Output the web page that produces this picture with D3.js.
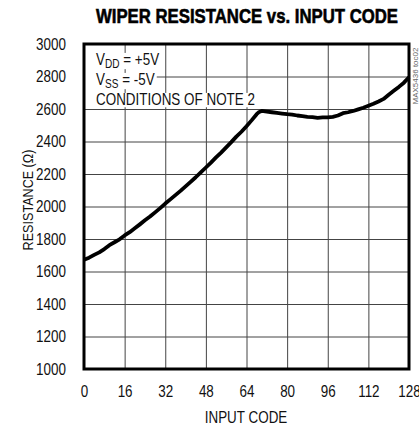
<!DOCTYPE html>
<html>
<head>
<meta charset="utf-8">
<script src="https://cdn.jsdelivr.net/npm/d3@7/dist/d3.min.js"></script>
<style>
  body { margin: 0; background: #fff; }
  text { font-family: 'Liberation Sans', Arial, sans-serif; }
</style>
</head>
<body>
<div id="chart"></div>
<script>
(function(d3) {
  'use strict';

  // input code vs wiper resistance (ohms)
  var codes = [0, 2, 4, 6, 8, 10, 12, 14, 16, 18, 20, 22, 24, 26, 28, 30, 32, 34, 36, 38, 40, 42, 44, 46, 48,
    50, 52, 54, 56, 58, 60, 62, 64, 66, 68, 69, 70, 72, 74, 76, 78, 80, 82, 84, 86, 88, 90, 92, 94, 96,
    98, 100, 102, 104, 106, 108, 110, 112, 114, 116, 118, 120, 122, 124, 126, 128];
  var resistance = [1672, 1685, 1702, 1718, 1738, 1762, 1780, 1798, 1822, 1842, 1866, 1890, 1915, 1938, 1964, 1990, 2018, 2044, 2070, 2096, 2124, 2152, 2180, 2210, 2240,
    2270, 2302, 2332, 2364, 2396, 2430, 2460, 2494, 2530, 2568, 2582, 2588, 2584, 2580, 2576, 2572, 2568, 2566, 2560, 2556, 2552, 2550, 2546, 2548, 2548,
    2552, 2560, 2574, 2580, 2588, 2598, 2608, 2620, 2632, 2646, 2662, 2688, 2712, 2736, 2762, 2795];

  var xTicks = [0, 16, 32, 48, 64, 80, 96, 112, 128];
  var yTicks = [1000, 1200, 1400, 1600, 1800, 2000, 2200, 2400, 2600, 2800, 3000];
  var notes = ['VDD = +5V', 'VSS = -5V', 'CONDITIONS OF NOTE 2'];

  var width = 419, height = 430;
  var left = 84, right = 409, top = 44, bottom = 369;
  var squeeze = 0.84; // no narrow font installed, squash horizontally

  var data = codes.map(function(c, i) { return { code: c, value: resistance[i] }; });

  var x = d3.scaleLinear().domain([0, 128]).range([left, right]);
  var y = d3.scaleLinear().domain([1000, 3000]).range([bottom, top]);

  var svg = d3.select('#chart').append('svg')
    .attr('width', width)
    .attr('height', height);

  svg.append('rect').attr('width', width).attr('height', height).attr('fill', '#fff');

  // grid
  svg.append('g')
    .attr('transform', 'translate(0,' + bottom + ')')
    .call(d3.axisBottom(x).tickValues(xTicks).tickSize(-(bottom - top)).tickFormat(''))
    .call(function(g) { g.select('.domain').remove(); })
    .selectAll('line').attr('stroke', '#444').attr('stroke-width', 1);

  svg.append('g')
    .attr('transform', 'translate(' + left + ',0)')
    .call(d3.axisLeft(y).tickValues(yTicks).tickSize(-(right - left)).tickFormat(''))
    .call(function(g) { g.select('.domain').remove(); })
    .selectAll('line').attr('stroke', '#444').attr('stroke-width', 1);

  // tick labels
  var xAxis = svg.append('g')
    .attr('transform', 'translate(0,' + bottom + ')')
    .attr('font-family', null)
    .call(d3.axisBottom(x).tickValues(xTicks).tickSize(0).tickPadding(17).tickFormat(d3.format('d')));
  xAxis.select('.domain').remove();
  xAxis.attr('font-family', null);
  xAxis.selectAll('text')
    .attr('font-size', 16).attr('fill', '#111')
    .attr('transform', 'scale(' + squeeze + ',1)');

  var yAxis = svg.append('g')
    .attr('transform', 'translate(' + left + ',0)')
    .call(d3.axisLeft(y).tickValues(yTicks).tickSize(0).tickPadding(18 / squeeze).tickFormat(d3.format('d')));
  yAxis.select('.domain').remove();
  yAxis.attr('font-family', null);
  yAxis.selectAll('text')
    .attr('font-size', 16).attr('fill', '#111')
    .attr('transform', 'scale(' + squeeze + ',1)');

  // condition notes with white backing
  var noteG = svg.append('g')
    .attr('transform', 'translate(96,0) scale(' + squeeze + ',1)');
  notes.forEach(function(n, i) {
    var t = noteG.append('text')
      .attr('x', 0)
      .attr('y', 65 + i * 20)
      .attr('font-size', 16)
      .attr('fill', '#111');
    if (i < 2) {
      t.append('tspan').text('V');
      t.append('tspan').attr('font-size', 12).attr('dy', 3).text(n.substr(1, 2));
      t.append('tspan').attr('dy', -3).text(n.substr(3));
    } else {
      t.text(n);
    }
    var bb = t.node().getBBox();
    noteG.insert('rect', 'text')
      .attr('x', -12 / squeeze)
      .attr('y', bb.y + 2)
      .attr('width', bb.width + 14 / squeeze)
      .attr('height', bb.height - 3)
      .attr('fill', '#fff');
  });

  // curve
  var line = d3.line()
    .x(function(d) { return x(d.code); })
    .y(function(d) { return y(d.value); })
    .curve(d3.curveLinear);

  svg.append('path')
    .datum(data)
    .attr('fill', 'none')
    .attr('stroke', '#000')
    .attr('stroke-width', 3.8)
    .attr('stroke-linejoin', 'round')
    .attr('d', line);

  // frame
  svg.append('rect')
    .attr('x', left).attr('y', top)
    .attr('width', right - left).attr('height', bottom - top)
    .attr('fill', 'none').attr('stroke', '#000').attr('stroke-width', 3);

  // title
  svg.append('text')
    .attr('x', 247).attr('y', 23)
    .attr('text-anchor', 'middle')
    .attr('font-size', 20)
    .attr('font-weight', 'bold')
    .attr('textLength', 302)
    .attr('lengthAdjust', 'spacingAndGlyphs')
    .style('stroke', '#000').style('stroke-width', 0.6)
    .text('WIPER RESISTANCE vs. INPUT CODE');

  // axis titles
  svg.append('text')
    .attr('transform', 'translate(246,423) scale(' + squeeze + ',1)')
    .attr('text-anchor', 'middle')
    .attr('font-size', 16)
    .attr('fill', '#111')
    .text('INPUT CODE');

  svg.append('text')
    .attr('transform', 'translate(33,200) rotate(-90) scale(' + squeeze + ',1)')
    .attr('text-anchor', 'middle')
    .attr('font-size', 15)
    .attr('fill', '#111')
    .text('RESISTANCE (\u03A9)');

  svg.append('text')
    .attr('transform', 'translate(418,76) rotate(-90)')
    .attr('text-anchor', 'middle')
    .attr('font-size', 8)
    .attr('fill', '#666')
    .text('MAX5436 toc02');
})(window.d3);
</script>
</body>
</html>
